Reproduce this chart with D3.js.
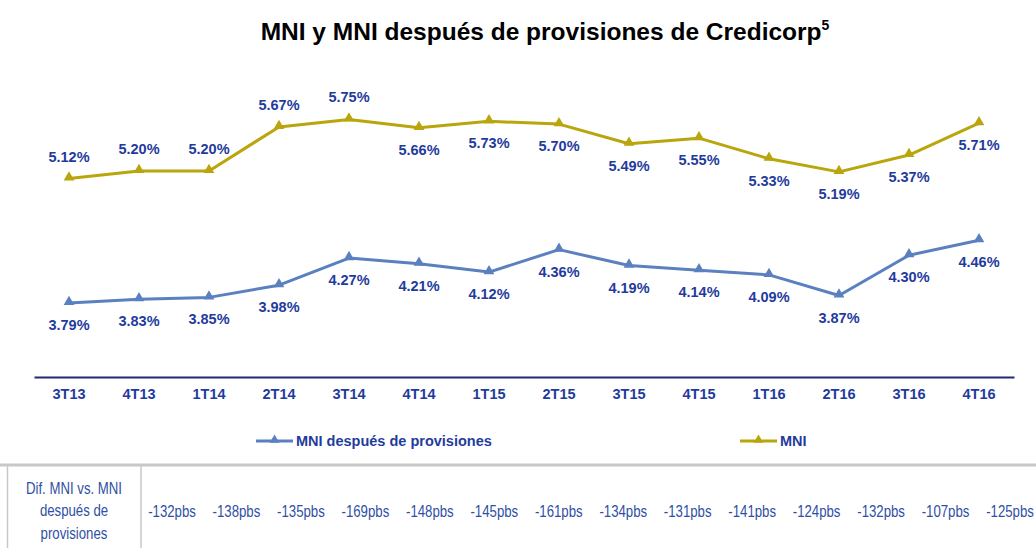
<!DOCTYPE html>
<html>
<head>
<meta charset="utf-8">
<script src="https://cdn.jsdelivr.net/npm/d3@7"></script>
<style>
  body { margin: 0; background: #fff; }
  svg { display: block; font-family: "Liberation Sans", Arial, sans-serif; }
</style>
</head>
<body>
<div id="chart"></div>
<script>
// data
var quarters = ["3T13", "4T13", "1T14", "2T14", "3T14", "4T14", "1T15", "2T15", "3T15", "4T15", "1T16", "2T16", "3T16", "4T16"];
var mni = [5.12, 5.20, 5.20, 5.67, 5.75, 5.66, 5.73, 5.70, 5.49, 5.55, 5.33, 5.19, 5.37, 5.71];
var mniPost = [3.79, 3.83, 3.85, 3.98, 4.27, 4.21, 4.12, 4.36, 4.19, 4.14, 4.09, 3.87, 4.30, 4.46];
var diffPbs = ["-132pbs", "-138pbs", "-135pbs", "-169pbs", "-148pbs", "-145pbs", "-161pbs", "-134pbs", "-131pbs", "-141pbs", "-124pbs", "-132pbs", "-107pbs", "-125pbs"];
// label side for MNI series (true = above the point)
var mniAbove = [true, true, true, true, true, false, false, false, false, false, false, false, false, false];

var W = 1036, H = 548;
var labelColor = "#1F3C9C";
var mniColor = "#B9A50C";
var postColor = "#5B80BF";

var svg = d3.select("#chart").append("svg")
  .attr("width", W)
  .attr("height", H);

// title
var title = svg.append("text")
  .attr("x", 545)
  .attr("y", 40)
  .attr("text-anchor", "middle")
  .style("font-size", "24.5px")
  .style("font-weight", "bold")
  .attr("fill", "#000");
title.append("tspan").text("MNI y MNI después de provisiones de Credicorp");
title.append("tspan").attr("dy", -10).style("font-size", "14px").text("5");

// scales
var x = d3.scaleBand().domain(quarters).range([34, 1014]);
var y = d3.scaleLinear().domain([3, 6]).range([377, 96]);
var cx = function(d, i) { return x(quarters[i]) + x.bandwidth() / 2; };

// category axis
var xAxis = svg.append("g")
  .attr("transform", "translate(0,377)")
  .call(d3.axisBottom(x).tickSize(0).tickPadding(12));
xAxis.select(".domain").attr("stroke", "#1F2A70").attr("stroke-width", 2);
xAxis.selectAll("text")
  .attr("fill", labelColor)
  .style("font-size", "14.5px")
  .style("font-weight", "bold")
  .style("font-family", "'Liberation Sans', Arial, sans-serif");

var tri = d3.symbol().type(d3.symbolTriangle).size(50);

function drawSeries(values, color) {
  var line = d3.line()
    .x(function(d, i) { return cx(d, i); })
    .y(function(d) { return y(d); });
  svg.append("path")
    .datum(values)
    .attr("d", line)
    .attr("fill", "none")
    .attr("stroke", color)
    .attr("stroke-width", 3)
    .attr("stroke-linejoin", "round");
  svg.selectAll(null)
    .data(values)
    .enter()
    .append("path")
    .attr("d", tri)
    .attr("transform", function(d, i) { return "translate(" + cx(d, i) + "," + (y(d) - 1) + ")"; })
    .attr("fill", color);
}

drawSeries(mni, mniColor);
drawSeries(mniPost, postColor);

// value labels
svg.selectAll(null)
  .data(mni)
  .enter()
  .append("text")
  .attr("x", function(d, i) { return cx(d, i); })
  .attr("y", function(d, i) { return y(d) + (mniAbove[i] ? -22 : 22); })
  .attr("dy", "0.35em")
  .attr("text-anchor", "middle")
  .attr("fill", labelColor)
  .style("font-size", "14.5px")
  .style("font-weight", "bold")
  .text(function(d) { return d.toFixed(2) + "%"; });

svg.selectAll(null)
  .data(mniPost)
  .enter()
  .append("text")
  .attr("x", function(d, i) { return cx(d, i); })
  .attr("y", function(d) { return y(d) + 22; })
  .attr("dy", "0.35em")
  .attr("text-anchor", "middle")
  .attr("fill", labelColor)
  .style("font-size", "14.5px")
  .style("font-weight", "bold")
  .text(function(d) { return d.toFixed(2) + "%"; });

// legend
var legendItems = [
  { name: "MNI después de provisiones", color: postColor, x: 256 },
  { name: "MNI", color: mniColor, x: 740 }
];
var lg = svg.selectAll(".legend")
  .data(legendItems)
  .enter()
  .append("g")
  .attr("class", "legend")
  .attr("transform", function(d) { return "translate(" + d.x + ",441)"; });
lg.append("line")
  .attr("x1", 0).attr("x2", 37)
  .attr("stroke", function(d) { return d.color; })
  .attr("stroke-width", 3);
lg.append("path")
  .attr("d", d3.symbol().type(d3.symbolTriangle).size(40))
  .attr("transform", "translate(18.5,-1)")
  .attr("fill", function(d) { return d.color; });
lg.append("text")
  .attr("x", 40)
  .attr("dy", "0.35em")
  .attr("fill", labelColor)
  .style("font-size", "14.5px")
  .style("font-weight", "bold")
  .text(function(d) { return d.name; });

// table below the chart (narrow text, squeezed horizontally)
var tableColor = "#2F4FA6";
var squeeze = 0.8;
svg.append("line")
  .attr("x1", 0).attr("x2", W)
  .attr("y1", 465).attr("y2", 465)
  .attr("stroke", "#C8C8C8").attr("stroke-width", 3);
svg.append("line")
  .attr("x1", 7.5).attr("x2", 7.5)
  .attr("y1", 465).attr("y2", H)
  .attr("stroke", "#C8C8C8").attr("stroke-width", 1.5);
svg.append("line")
  .attr("x1", 141).attr("x2", 141)
  .attr("y1", 465).attr("y2", H)
  .attr("stroke", "#C8C8C8").attr("stroke-width", 1.5);

var rowHead = ["Dif. MNI vs. MNI", "después de", "provisiones"];
svg.selectAll(null)
  .data(rowHead)
  .enter()
  .append("text")
  .attr("transform", function(d, i) { return "translate(74," + (488 + i * 22.5) + ") scale(" + squeeze + ",1)"; })
  .attr("dy", "0.35em")
  .attr("text-anchor", "middle")
  .attr("fill", tableColor)
  .style("font-size", "16.5px")
  .text(function(d) { return d; });

var tx = d3.scalePoint().domain(quarters).range([172, 1010]);
svg.selectAll(null)
  .data(diffPbs)
  .enter()
  .append("text")
  .attr("transform", function(d, i) { return "translate(" + tx(quarters[i]) + ",511) scale(" + squeeze + ",1)"; })
  .attr("dy", "0.35em")
  .attr("text-anchor", "middle")
  .attr("fill", tableColor)
  .style("font-size", "16.5px")
  .text(function(d) { return d; });
</script>
</body>
</html>
